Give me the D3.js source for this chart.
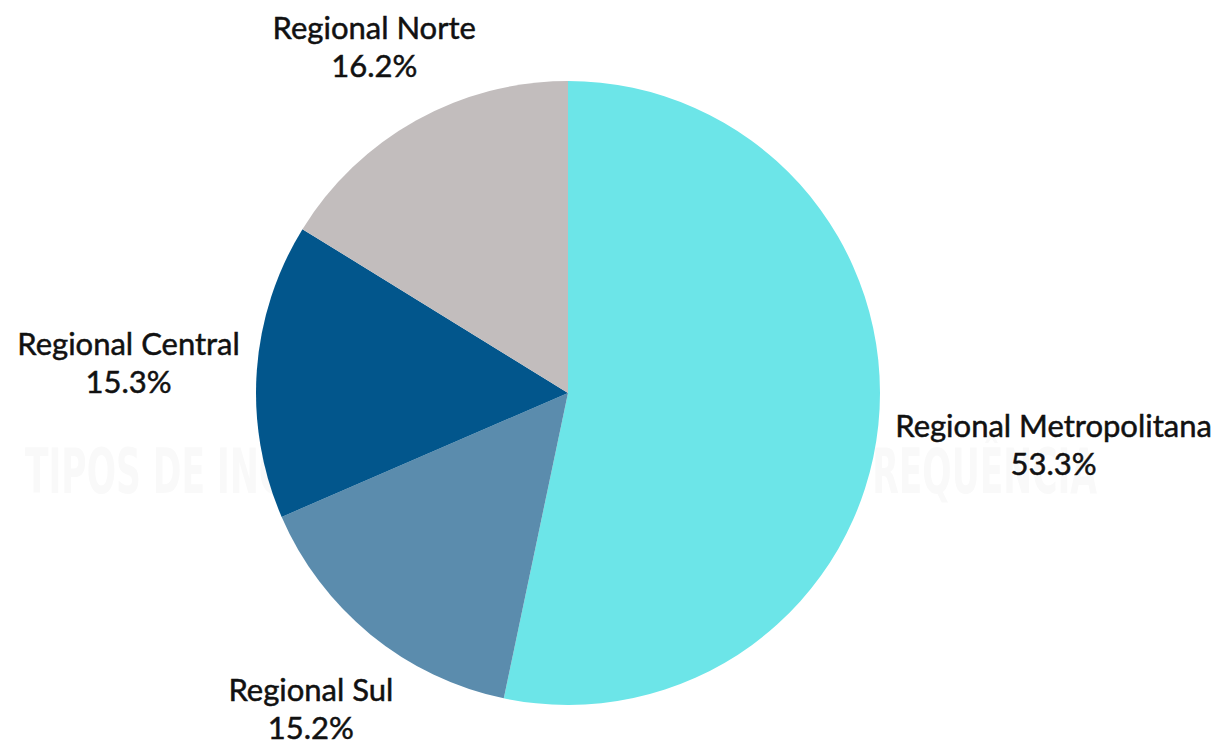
<!DOCTYPE html>
<html>
<head>
<meta charset="utf-8">
<script src="https://cdn.jsdelivr.net/npm/d3@7"></script>
<style>
  body { margin: 0; background: #fff; }
  svg { display: block; }
</style>
</head>
<body>
<script>
const w = 1220;
const h = 740;

// data
const regions = ['Regional Metropolitana', 'Regional Sul', 'Regional Central', 'Regional Norte'];
const shares = [53.3, 15.2, 15.3, 16.2];
const colors = ['#6ce5e8', '#5b8cad', '#02568c', '#c2bdbd'];
const watermark = 'TIPOS DE INCIDENTES MAIS COMUNS POR FREQUÊNCIA';

const cx = 568, cy = 393, r = 312;

const svg = d3.select('body').append('svg').attr('width', w).attr('height', h);

// faint title behind the pie
svg.append('text')
  .attr('x', 25).attr('y', 493)
  .attr('textLength', 1072)
  .attr('lengthAdjust', 'spacingAndGlyphs')
  .style('font-family', '"DejaVu Sans Condensed", "DejaVu Sans"')
  .style('font-stretch', 'condensed')
  .style('font-weight', 'bold')
  .style('font-size', '62px')
  .style('fill', '#f9f9f9')
  .text(watermark);

const data = regions.map((d, i) => ({ name: d, value: shares[i], color: colors[i] }));

const pie = d3.pie().sort(null).value(d => d.value);
const arc = d3.arc().innerRadius(0).outerRadius(r);
const arcs = pie(data);

const g = svg.append('g').attr('transform', 'translate(' + cx + ',' + cy + ')');

g.selectAll('path').data(arcs).enter()
  .append('path')
  .attr('d', arc)
  .style('fill', d => d.data.color);

// labels outside, centred on the slice's middle ray
const fs = 31, lineGap = 38, cap = 21;
const labels = g.selectAll('.lbl').data(arcs).enter()
  .append('text')
  .attr('class', 'lbl')
  .attr('text-anchor', 'middle')
  .style('font-family', 'Lato, "Open Sans", sans-serif')
  .style('font-size', fs + 'px')
  .style('fill', '#111')
  .style('stroke', '#111')
  .style('stroke-width', 0.5);

labels.append('tspan').attr('class', 'l1').attr('x', 0).text(d => d.data.name);
labels.append('tspan').attr('class', 'l2').attr('x', 0).text(d => d.data.value.toFixed(1) + '%');

labels.each(function(d) {
  const t = d3.select(this);
  const bw = Math.max(t.select('.l1').node().getComputedTextLength(),
                      t.select('.l2').node().getComputedTextLength());
  const a = (d.startAngle + d.endAngle) / 2;
  const dx = Math.sin(a), dy = -Math.cos(a);
  const ext = Math.min(bw / 2 / Math.max(Math.abs(dx), 1e-6), 60 / Math.max(Math.abs(dy), 1e-6));
  const dist = r + 17 + ext;
  const x = dx * dist, y = dy * dist + 2;
  const half = (cap + lineGap) / 2;
  t.select('.l1').attr('x', x).attr('y', y - half + cap);
  t.select('.l2').attr('x', x).attr('y', y + half);
});
</script>
</body>
</html>
